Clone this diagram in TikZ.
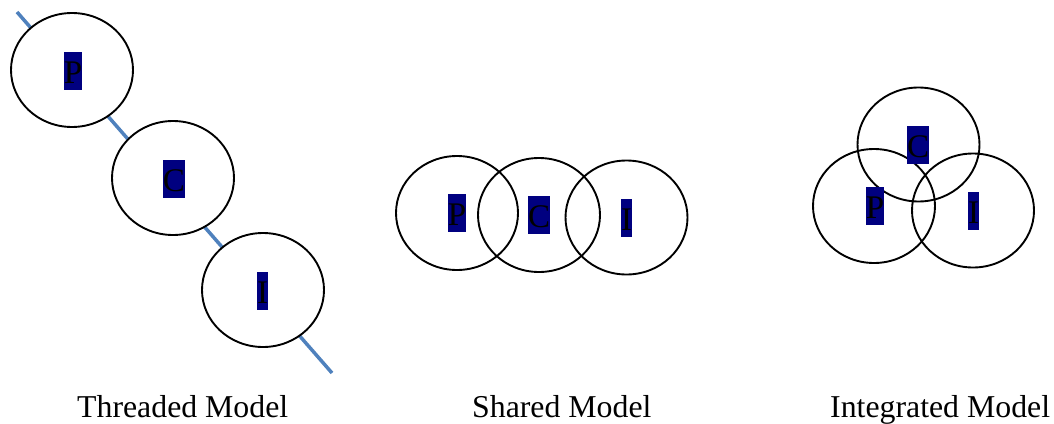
\documentclass[tikz,border=0pt]{standalone}
\usepackage{fontspec}
\setmainfont{Liberation Serif}
\usetikzlibrary{shapes.geometric}
\definecolor{thread}{HTML}{4F81BD}
\definecolor{navybox}{HTML}{000080}
\tikzset{
  ring/.style={ellipse, draw=black, line width=1.9pt, minimum width=122pt, minimum height=114pt, inner sep=0pt},
  solidring/.style={ring, fill=white},
  tag/.style={fill=navybox, text=black, inner sep=0pt, text height=31pt, text depth=7pt, font=\fontsize{33}{40}\selectfont},
  caption/.style={anchor=base west, inner sep=0pt, font=\fontsize{31.8}{38}\selectfont}
}
\begin{document}
\begin{tikzpicture}[x=1pt,y=-1pt]
\useasboundingbox (0,0) rectangle (1054,423);
% Threaded model
\coordinate (t1) at (17,12);
\coordinate (t2) at (332,373);
\draw[thread, line width=3.5pt] (t1) -- (t2);
\node[solidring] (tp) at (72,70) {};
\node[solidring] (tc) at (173,178) {};
\node[solidring] (ti) at (263,290) {};
\node[tag] (tpl) at (73,71) {P};
\node[tag] (tcl) at (174,179) {C};
\node[tag] (til) at (262.5,291) {I};
% Shared model
\node[ring] (sp) at (457,213) {};
\node[ring] (sc) at (539,215) {};
\node[ring] (si) at (626.5,217.5) {};
\node[tag] (spl) at (457,213) {P};
\node[tag] (scl) at (539,215) {C};
\node[tag] (sil) at (626.5,218) {I};
% Integrated model
\node[ring] (ic) at (918.5,144.5) {};
\node[ring] (ip) at (874,206) {};
\node[ring] (ii) at (973,210.5) {};
\node[tag] (icl) at (918,145) {C};
\node[tag] (ipl) at (875,206) {P};
\node[tag] (iil) at (973.5,211) {I};
% Captions
\node[caption] (cap1) at (77,417) {Threaded Model};
\node[caption] (cap2) at (472,417) {Shared Model};
\node[caption] (cap3) at (830,417) {Integrated Model};
\end{tikzpicture}
\end{document}
